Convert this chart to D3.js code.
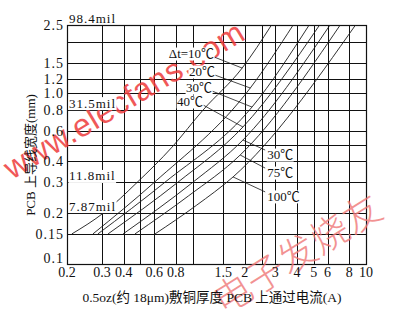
<!DOCTYPE html>
<html><head><meta charset="utf-8">
<script src="https://cdn.jsdelivr.net/npm/d3@7"></script>
<style>body{margin:0;background:#fff}svg{display:block}</style>
</head><body><svg id="c" width="394" height="324"></svg>
<script>
// ---- data ----
const xGridValues = [0.3,0.4,0.5,0.6,0.8,1,1.5,2,2.5,3,4,5,6,8];
const yGridValues = [0.15,0.2,0.3,0.4,0.5,0.6,0.8,1.0,1.2,1.5,2.0];
const xTickValues = [0.2,0.3,0.4,0.6,0.8,1.5,2,3,4,5,6,8,10];
const xTickLabels = ["0.2","0.3","0.4","0.6","0.8","1.5","2","3","4","5","6","8","10"];
const yTickValues = [0.1,0.15,0.2,0.3,0.4,0.6,0.8,1.0,1.2,1.5,2.5];
const yTickLabels = ["0.1","0.15","0.2","0.3","0.4","0.6","0.8","1.0","1.2","1.5","2.5"];
const milValues = [2.5,0.8,0.3,0.2];
const milLabels = ["98.4mil","31.5mil","11.8mil","7.87mil"];

// curves: current (A) vs trace width (mm)
const curve10I  = [0.201,0.308,0.478,0.761,1.149,1.93,2.85];
const curve10W  = [0.15,0.2,0.3,0.483,0.796,1.40,2.5];
const curve20I  = [0.266,0.60,2.15,3.8];
const curve20W  = [0.15,0.3,1.07,2.5];
const curve30I  = [0.284,0.69,2.20,4.7];
const curve30W  = [0.15,0.3,0.828,2.5];
const curve40I  = [0.325,0.819,1.95,5.4];
const curve40W  = [0.15,0.3,0.633,2.5];
const curve60I  = [0.397,1.0,1.95,6.2];
const curve60W  = [0.15,0.3,0.531,2.5];
const curve75I  = [0.465,0.945,1.88,7.1];
const curve75W  = [0.15,0.25,0.434,2.5];
const curve100I = [0.607,1.049,1.71,8.7];
const curve100W = [0.15,0.22,0.323,2.5];

// annotations
const labelText = ["Δt=10℃","20℃","30℃","40℃","30℃","75℃","100℃"];
const anchorI = [1.93,2.15,2.20,1.95,1.95,1.88,1.71];
const anchorW = [1.40,1.07,0.828,0.633,0.531,0.434,0.323];
const leaderI = [1.33,1.344,1.295,1.149,2.62,2.62,2.62];
const leaderW = [1.624,1.274,1.027,0.851,0.464,0.364,0.264];
const labelSide = ["end","end","end","end","start","start","start"];

const xTitle = "0.5oz(约 18μm)敷铜厚度 PCB 上通过电流(A)";
const yTitle = "PCB 上导线宽度(mm)";

// ---- drawing ----
const svg = d3.select("#c");
const L = 67, R = 366, T = 25, B = 264;
const x = d3.scaleLog().domain([0.2,10]).range([71.5,366]);
const y = d3.scaleLog().domain([0.1,2.5]).range([264,25]);
const sx = v => Math.round(x(v)) + 0.5;
const sy = v => Math.round(y(v)) + 0.5;
const serif = "'Liberation Serif','Noto Sans CJK SC',serif";

svg.append("rect").attr("width",394).attr("height",324).attr("fill","#fff");

const grid = svg.append("g").attr("stroke","#111").attr("stroke-width",1);
grid.selectAll("line.v").data(xGridValues).join("line")
  .attr("x1",sx).attr("x2",sx).attr("y1",T).attr("y2",B);
grid.selectAll("line.h").data(yGridValues).join("line")
  .attr("x1",L).attr("x2",R).attr("y1",sy).attr("y2",sy);

svg.append("rect").attr("x",L+0.5).attr("y",T+0.5).attr("width",R-L).attr("height",B-T)
  .attr("fill","none").attr("stroke","#111").attr("stroke-width",1.2);

function withBg(g, sel){
  sel.each(function(){
    const bb = this.getBBox();
    g.insert("rect", () => this).attr("x",bb.x-0.5).attr("y",bb.y+1.5)
      .attr("width",bb.width+1).attr("height",bb.height-2).attr("fill","#fff");
  });
}

// curves
const curves = [
  [curve10I,curve10W],[curve20I,curve20W],[curve30I,curve30W],[curve40I,curve40W],
  [curve60I,curve60W],[curve75I,curve75W],[curve100I,curve100W]
].map(([I,W]) => I.map((v,i)=>({I:v,W:W[i]})));
const line = d3.line().x(d=>x(d.I)).y(d=>y(d.W)).curve(d3.curveMonotoneX);
svg.append("defs").append("clipPath").attr("id","clip")
  .append("rect").attr("x",L).attr("y",T).attr("width",R-L).attr("height",B-T);
svg.append("g").attr("clip-path","url(#clip)").selectAll("path").data(curves).join("path")
  .attr("d",line).attr("fill","none").attr("stroke","#1a1a1a").attr("stroke-width",0.9);

// watermarks (under the labels)
svg.append("text").attr("transform","translate(12,180) rotate(-31)")
  .attr("font-family","'Liberation Sans',Arial,sans-serif").attr("font-size",32)
  .attr("letter-spacing",0.6)
  .attr("fill","#ee3b3b").attr("opacity",0.85).text("www.elecfans.com");
svg.append("text").attr("transform","translate(224,316) rotate(-32)")
  .attr("font-family","'Noto Sans CJK SC',sans-serif").attr("font-size",38).attr("font-weight",300)
  .attr("fill","#f07878").attr("opacity",0.8).text("电子发烧友");

// leaders
const ann = svg.append("g");
ann.selectAll("line").data(labelText).join("line")
  .attr("x1",(d,i)=>x(anchorI[i])).attr("y1",(d,i)=>y(anchorW[i]))
  .attr("x2",(d,i)=>x(leaderI[i])).attr("y2",(d,i)=>y(leaderW[i]))
  .attr("stroke","#1a1a1a").attr("stroke-width",0.8);
const labs = ann.selectAll("text").data(labelText).join("text")
  .attr("x",(d,i)=> labelSide[i]==="end" ? x(leaderI[i]) : x(leaderI[i])+2)
  .attr("y",(d,i)=> labelSide[i]==="end" ? y(leaderW[i])+1 : y(leaderW[i])+9)
  .attr("text-anchor",(d,i)=>labelSide[i])
  .attr("font-family",serif).attr("font-size",13).attr("fill","#111")
  .text(d=>d);
withBg(ann, labs);

// mil labels
const mil = svg.append("g");
const mils = mil.selectAll("text").data(milLabels).join("text")
  .attr("x",L+2).attr("y",(d,i)=>y(milValues[i])-2)
  .attr("font-family",serif).attr("font-size",13).attr("letter-spacing",1).attr("fill","#111")
  .text(d=>d);
withBg(mil, mils.filter((d,i)=>i>0));

// tick labels
svg.append("g").selectAll("text").data(yTickLabels).join("text")
  .attr("x",64).attr("y",(d,i)=>Math.min(y(yTickValues[i]),258)+5)
  .attr("text-anchor","end").attr("font-family",serif).attr("font-size",14)
  .attr("letter-spacing",1).attr("fill","#111").text(d=>d);
svg.append("g").selectAll("text").data(xTickLabels).join("text")
  .attr("x",(d,i)=> i===0 ? L : x(xTickValues[i])).attr("y",277)
  .attr("text-anchor","middle").attr("font-family",serif).attr("font-size",14)
  .attr("fill","#111").text(d=>d);

// axis titles
svg.append("text").attr("x",212).attr("y",302).attr("text-anchor","middle")
  .attr("font-family",serif).attr("font-size",13.5).attr("fill","#111").text(xTitle);
svg.append("text").attr("transform","translate(35,155) rotate(-90)").attr("text-anchor","middle")
  .attr("font-family",serif).attr("font-size",13).attr("fill","#111").text(yTitle);
</script></body></html>
